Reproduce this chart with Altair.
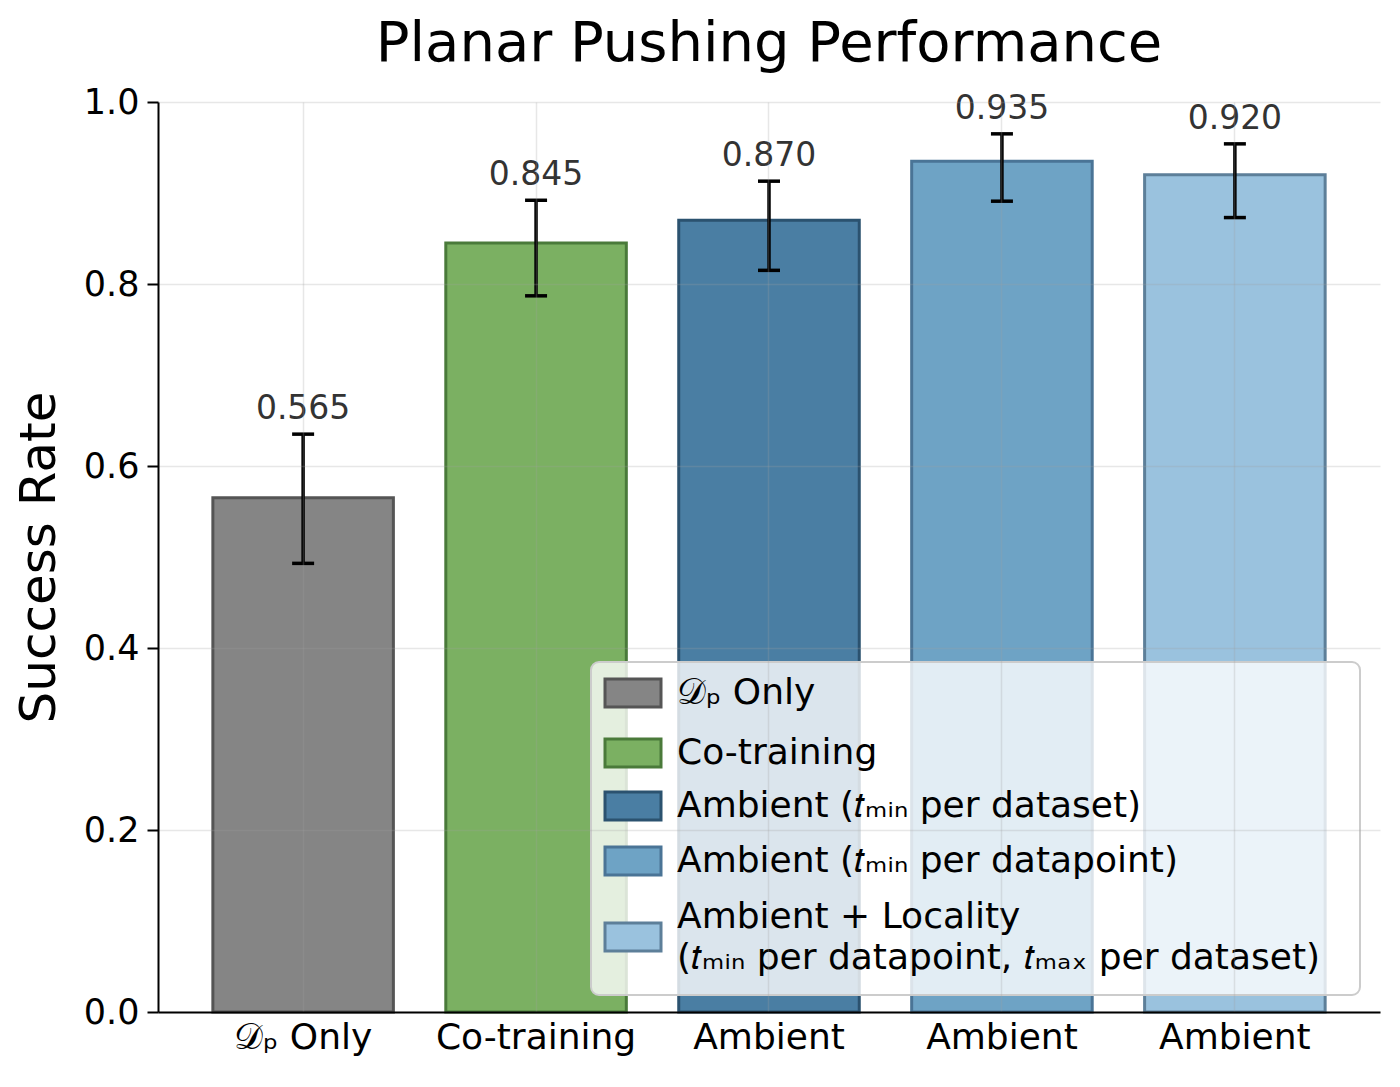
import altair as alt
import pandas as pd

# ---- data ----
categories = [
    "Dp Only",
    "Co-training",
    "Ambient (tmin per dataset)",
    "Ambient (tmin per datapoint)",
    "Ambient + Locality (tmin per datapoint, tmax per dataset)",
]
legend_lines = [
    ["𝒟ₚ Only"],
    ["Co-training"],
    ["Ambient (𝑡ₘᵢₙ per dataset)"],
    ["Ambient (𝑡ₘᵢₙ per datapoint)"],
    ["Ambient + Locality", "(𝑡ₘᵢₙ per datapoint, 𝑡ₘₐₓ per dataset)"],
]
xtick_labels = ["𝒟ₚ Only", "Co-training", "Ambient", "Ambient", "Ambient"]
success = [0.565, 0.845, 0.870, 0.935, 0.920]
err_low = [0.493, 0.787, 0.815, 0.891, 0.873]
err_high = [0.635, 0.892, 0.913, 0.965, 0.954]
fill_colors = ["#858585", "#7BB062", "#4A7EA3", "#6EA3C5", "#9AC2DE"]
edge_colors = ["#555555", "#4A7A3A", "#2B526F", "#4A7496", "#5D7F99"]

df = pd.DataFrame({"cat": categories, "value": success, "lo": err_low, "hi": err_high})

FONT = "DejaVu Sans"
W, H = 1222, 910

cat_js = "[" + ",".join("'" + c + "'" for c in categories) + "]"
lab_js = "[" + ",".join("'" + c + "'" for c in xtick_labels) + "]"

grid_kw = dict(grid=True, gridColor="#a0a0a0", gridOpacity=0.25, gridWidth=1.5)

fill_scale = alt.Scale(domain=categories, range=fill_colors)
edge_scale = alt.Scale(domain=categories, range=edge_colors)

x_enc = alt.X(
    "cat:N",
    sort=categories,
    scale=alt.Scale(paddingInner=0.225, paddingOuter=0.2355),
    axis=alt.Axis(
        title=None,
        labelAngle=0,
        labelFontSize=36,
        labelFont=FONT,
        labelColor="black",
        labelPadding=8,
        labelLimit=0,
        ticks=False,
        domainColor="black",
        domainWidth=2,
        labelExpr=f"{lab_js}[indexof({cat_js}, datum.value)]",
        zindex=1,
        **grid_kw,
    ),
)

base = alt.Chart(df).encode(x=x_enc)

bars = base.mark_bar(strokeWidth=3).encode(
    y=alt.Y(
        "value:Q",
        scale=alt.Scale(domain=[0, 1], nice=False, zero=True),
        axis=alt.Axis(
            title="Success Rate",
            values=[0, 0.2, 0.4, 0.6, 0.8, 1.0],
            format=".1f",
            labelFontSize=35,
            labelFont=FONT,
            labelColor="black",
            labelPadding=8,
            titleFontSize=50,
            titleFont=FONT,
            titleFontWeight="normal",
            titleColor="black",
            titlePadding=19,
            tickSize=11,
            tickWidth=2,
            tickColor="black",
            domainColor="black",
            domainWidth=2,
            zindex=1,
            **grid_kw,
        ),
    ),
    color=alt.Color("cat:N", scale=fill_scale, legend=None),
    stroke=alt.Stroke("cat:N", scale=edge_scale, legend=None),
)

rules = base.mark_rule(strokeWidth=3.5, color="black").encode(y="lo:Q", y2="hi:Q")
cap_lo = base.mark_tick(color="black", opacity=1, thickness=3.5, size=22).encode(y="lo:Q")
cap_hi = base.mark_tick(color="black", opacity=1, thickness=3.5, size=22).encode(y="hi:Q")
labels = base.mark_text(dy=-15, baseline="alphabetic", fontSize=33, font=FONT,
                        color="#333333").encode(
    y="hi:Q", text=alt.Text("value:Q", format=".3f"))

main = alt.layer(bars, rules, cap_lo, cap_hi, labels)

# ---- hand-built legend (layout in plot-area pixels) ----
BOX = dict(x0=433, x1=1202, y0=560, y1=893)
SW_X0, SW_X1, SW_H = 447, 503, 28
TXT_X = 519
ROW_Y0 = 591
ROW_STEPS = [0, 60, 53, 55, 76]
LINE_H = 41

row_centers = []
acc = ROW_Y0
for s in ROW_STEPS:
    acc += s
    row_centers.append(acc)

leg_sw = pd.DataFrame({
    "cat": categories,
    "x0": [SW_X0] * 5, "x1": [SW_X1] * 5,
    "y0": [c - SW_H / 2 for c in row_centers],
    "y1": [c + SW_H / 2 for c in row_centers],
})
txt_rows = []
for cat, lines, c in zip(categories, legend_lines, row_centers):
    n = len(lines)
    for k, ln in enumerate(lines):
        txt_rows.append({"line": ln, "tx": TXT_X, "ty": c + (k - (n - 1) / 2) * LINE_H, "k": f"{cat}-{k}"})
leg_txt = pd.DataFrame(txt_rows)
leg_box = pd.DataFrame([BOX])

px = alt.Scale(domain=[0, W], range=[0, W], nice=False, zero=False)
py = alt.Scale(domain=[0, H], range=[0, H], nice=False, zero=False)

box = alt.Chart(leg_box).mark_rect(
    fill="white", fillOpacity=0.8, stroke="#cccccc", strokeWidth=2, cornerRadius=8
).encode(
    x=alt.X("x0:Q", scale=px, axis=None), x2="x1:Q",
    y=alt.Y("y0:Q", scale=py, axis=None), y2="y1:Q",
)
swatches = alt.Chart(leg_sw).mark_rect(strokeWidth=3).encode(
    x=alt.X("x0:Q", scale=px, axis=None), x2="x1:Q",
    y=alt.Y("y0:Q", scale=py, axis=None), y2="y1:Q",
    color=alt.Color("cat:N", scale=fill_scale, legend=None),
    stroke=alt.Stroke("cat:N", scale=edge_scale, legend=None),
)
texts = alt.Chart(leg_txt).mark_text(
    align="left", baseline="middle", fontSize=36, font=FONT, color="black"
).encode(
    x=alt.X("tx:Q", scale=px, axis=None),
    y=alt.Y("ty:Q", scale=py, axis=None),
    text="line:N",
    detail="k:N",
)
legend = alt.layer(box, swatches, texts)

chart = (
    alt.layer(main, legend)
    .resolve_scale(x="independent", y="independent")
    .properties(
        width=W,
        height=H,
        autosize=alt.AutoSizeParams(type="none"),
        padding={"left": 158, "top": 102, "right": 20, "bottom": 75},
        title=alt.TitleParams("Planar Pushing Performance", fontSize=56, font=FONT,
                              fontWeight="normal", anchor="middle", offset=12,
                              color="black"),
        background="white",
    )
    .configure_view(stroke=None)
)

chart.save("out.html", embed_options={"renderer": "svg", "actions": False})
